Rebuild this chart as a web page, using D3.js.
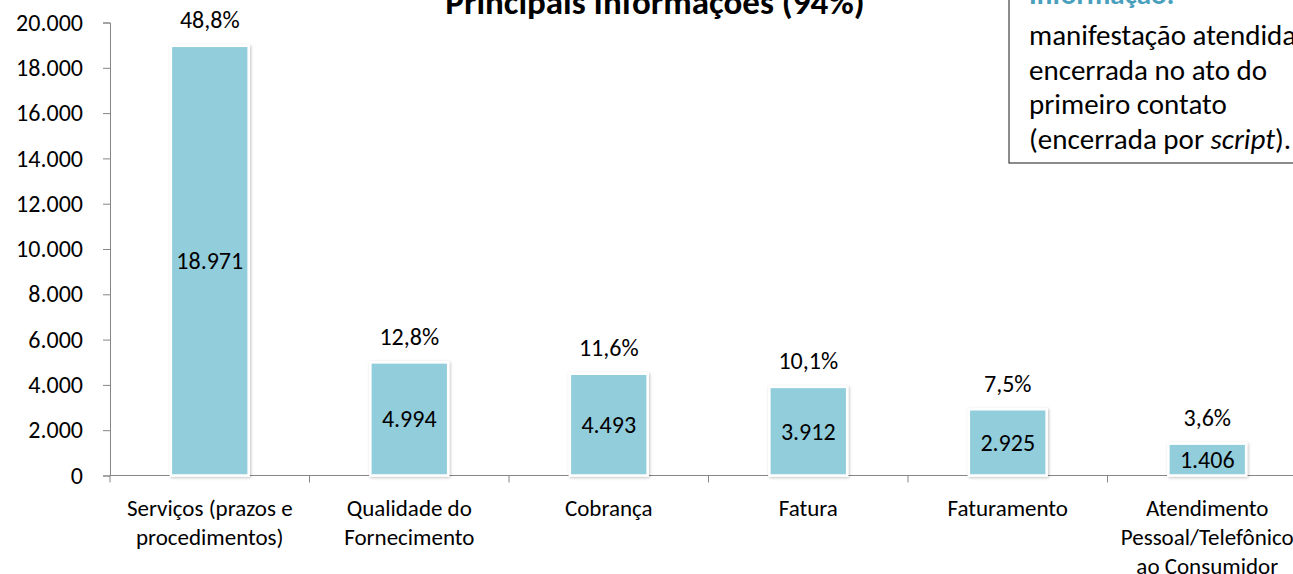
<!doctype html>
<html lang="pt">
<head>
<meta charset="UTF-8">
<title>Principais Informações</title>
<style type="text/css">
body {
  margin: 0;
  padding: 0;
  background: #ffffff;
  font-family: 'Carlito', 'Lato', sans-serif;
}
svg { display: block; }
</style>
<script src="https://cdn.jsdelivr.net/npm/d3@7"></script>
</head>
<body>
<div id="chart"></div>
<script type="text/javascript">

var categories = ['Serviços (prazos e procedimentos)', 'Qualidade do Fornecimento', 'Cobrança', 'Fatura', 'Faturamento', 'Atendimento Pessoal/Telefônico ao Consumidor'];
var categoryLines = [
  ['Serviços (prazos e', 'procedimentos)'],
  ['Qualidade do', 'Fornecimento'],
  ['Cobrança'],
  ['Fatura'],
  ['Faturamento'],
  ['Atendimento', 'Pessoal/Telefônico', 'ao Consumidor']
];
var values = [18971, 4994, 4493, 3912, 2925, 1406];
var percents = [48.8, 12.8, 11.6, 10.1, 7.5, 3.6];
var yTicks = [0, 2000, 4000, 6000, 8000, 10000, 12000, 14000, 16000, 18000, 20000];
var title = 'Principais Informações (94%)';
var noteHead = 'Informação:';
var noteLines = ['manifestação atendida', 'encerrada no ato do', 'primeiro contato'];

var W = 1293, H = 574;
var plotLeft = 110, plotRight = 1307, plotTop = 22.5, plotBottom = 475.5;

var ptBR = d3.formatLocale({ decimal: ',', thousands: '.', grouping: [3], currency: ['R$', ''] });
var fmtInt = ptBR.format(',d');
var fmtPct = ptBR.format('.1f');

var svg = d3.select('#chart').append('svg')
  .attr('width', W)
  .attr('height', H);

var defs = svg.append('defs');
var shadow = defs.append('filter').attr('id', 'shadow')
  .attr('x', '-20%').attr('y', '-20%').attr('width', '140%').attr('height', '140%');
shadow.append('feDropShadow')
  .attr('dx', 1).attr('dy', 1).attr('stdDeviation', 1.5)
  .attr('flood-color', '#000').attr('flood-opacity', 0.25);

var x = d3.scaleBand()
  .domain(categories)
  .range([plotLeft, plotRight])
  .paddingInner(0.61)
  .paddingOuter(0.305);

var y = d3.scaleLinear()
  .domain([0, 20000])
  .range([plotBottom, plotTop]);

var step = x.step();

// y axis
var yAxis = svg.append('g')
  .attr('transform', 'translate(' + plotLeft + ',0)')
  .call(d3.axisLeft(y).tickValues(yTicks).tickSize(7).tickPadding(20).tickFormat(fmtInt));
yAxis.select('.domain').attr('stroke', '#868686');
yAxis.selectAll('.tick line').attr('stroke', '#868686');
yAxis.selectAll('.tick text')
  .attr('fill', '#000')
  .style('font-family', "'Carlito', 'Lato', sans-serif")
  .style('font-size', '24px');

// x axis line + ticks at band boundaries
var xAxis = svg.append('g');
xAxis.append('line')
  .attr('x1', plotLeft).attr('x2', plotRight)
  .attr('y1', y(0)).attr('y2', y(0))
  .attr('stroke', '#868686');
xAxis.selectAll('line.tick')
  .data(d3.range(categories.length + 1))
  .enter().append('line')
  .attr('class', 'tick')
  .attr('x1', function(i) { return plotLeft + i * step; })
  .attr('x2', function(i) { return plotLeft + i * step; })
  .attr('y1', y(0))
  .attr('y2', y(0) + 7)
  .attr('stroke', '#868686');

// bars
svg.selectAll('rect.bar')
  .data(values)
  .enter().append('rect')
  .attr('class', 'bar')
  .attr('x', function(d, i) { return x(categories[i]); })
  .attr('y', function(d) { return y(d); })
  .attr('width', x.bandwidth())
  .attr('height', function(d) { return y(0) - y(d); })
  .attr('fill', '#92CDDC')
  .attr('stroke', '#ffffff')
  .attr('stroke-width', 2.5)
  .attr('filter', 'url(#shadow)');

// value labels (centred in bar)
svg.selectAll('text.value')
  .data(values)
  .enter().append('text')
  .attr('class', 'value')
  .attr('x', function(d, i) { return x(categories[i]) + x.bandwidth() / 2; })
  .attr('y', function(d) { return (y(d) + y(0)) / 2; })
  .attr('dy', '0.35em')
  .attr('text-anchor', 'middle')
  .style('font-size', '24px')
  .text(function(d) { return fmtInt(d); });

// percent labels (above bar)
svg.selectAll('text.pct')
  .data(percents)
  .enter().append('text')
  .attr('class', 'pct')
  .attr('x', function(d, i) { return x(categories[i]) + x.bandwidth() / 2; })
  .attr('y', function(d, i) { return y(values[i]) - 26; })
  .attr('dy', '0.35em')
  .attr('text-anchor', 'middle')
  .style('font-size', '24px')
  .text(function(d) { return fmtPct(d) + '%'; });

// category labels
var catLabels = svg.selectAll('text.cat')
  .data(categoryLines)
  .enter().append('text')
  .attr('class', 'cat')
  .attr('text-anchor', 'middle')
  .style('font-size', '23px')
  .attr('transform', function(d, i) {
    return 'translate(' + (x(categories[i]) + x.bandwidth() / 2) + ',' + 508 + ')';
  });
catLabels.selectAll('tspan')
  .data(function(d) { return d; })
  .enter().append('tspan')
  .attr('x', 0)
  .attr('y', function(d, j) { return j * 29; })
  .attr('dy', '0.35em')
  .text(function(d) { return d; });

// title
svg.append('text')
  .attr('x', 655)
  .attr('y', 14)
  .attr('text-anchor', 'middle')
  .style('font-size', '35px')
  .style('font-weight', 'bold')
  .text(title);

// note box (top right)
var note = svg.append('g');
note.append('rect')
  .attr('x', 1009).attr('y', -10)
  .attr('width', 320).attr('height', 173)
  .attr('fill', '#fff')
  .attr('stroke', '#404040')
  .attr('stroke-width', 1.2);
note.append('text')
  .attr('x', 1029).attr('y', 4)
  .attr('fill', '#4A9FBC')
  .style('font-size', '29px')
  .style('font-weight', 'bold')
  .text(noteHead);
noteLines.forEach(function(line, i) {
  note.append('text')
    .attr('x', 1029)
    .attr('y', 45 + i * 34.5)
    .style('font-size', '29px')
    .text(line);
});
var lastLine = note.append('text')
  .attr('x', 1029)
  .attr('y', 45 + 3 * 34.5)
  .style('font-size', '29px');
lastLine.append('tspan').text('(encerrada por ');
lastLine.append('tspan').style('font-style', 'italic').text('script');
lastLine.append('tspan').text(').');

</script>
</body>
</html>
